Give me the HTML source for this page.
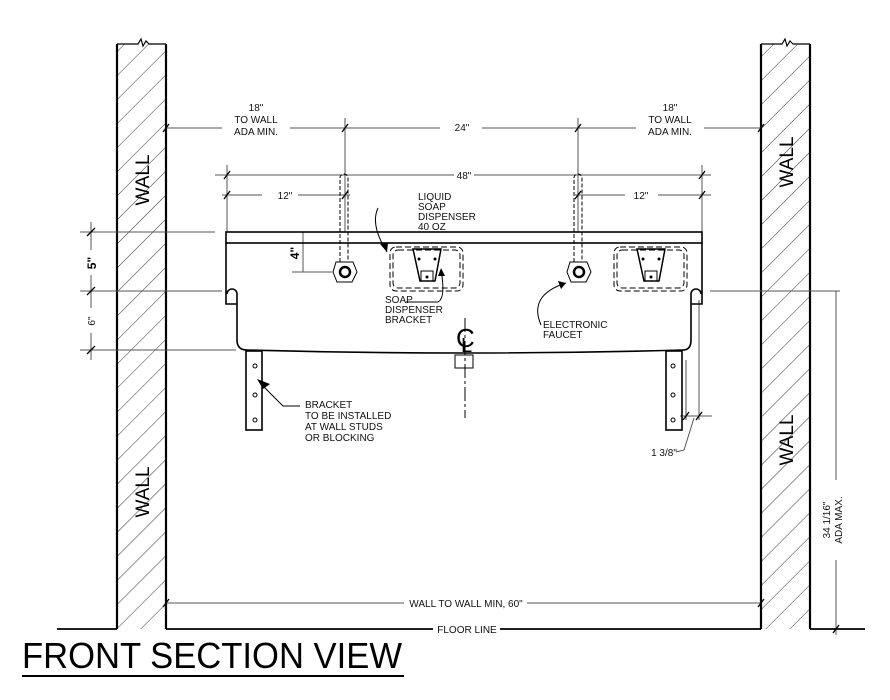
<!DOCTYPE html>
<html><head><style>
html,body{margin:0;padding:0;background:#fff;}
svg{display:block;font-family:"Liberation Sans",Arial,sans-serif;}
</style></head><body>
<svg width="890" height="700" viewBox="0 0 890 700" xmlns="http://www.w3.org/2000/svg">
<defs>
<pattern id="h" width="17" height="17" patternUnits="userSpaceOnUse" patternTransform="rotate(45)">
<line x1="0" y1="0" x2="0" y2="17" stroke="#333" stroke-width="1"/>
</pattern>
</defs>
<rect x="117" y="44" width="49" height="585" fill="url(#h)"/>
<rect x="761" y="44" width="49" height="585" fill="url(#h)"/>
<g stroke="#000" stroke-width="2.2" fill="none">
<line x1="117" y1="44" x2="117" y2="629"/><line x1="166" y1="44" x2="166" y2="629"/>
<line x1="761" y1="44" x2="761" y2="629"/><line x1="810" y1="44" x2="810" y2="629"/>
<polyline points="117,44 138,44 141,39 143,46 146,41 149,44 166,44" stroke-width="1.2"/>
<polyline points="761,44 782,44 785,39 787,46 790,41 793,44 810,44" stroke-width="1.2"/>
<line x1="57" y1="629" x2="117" y2="629" stroke-width="1.8"/>
<line x1="166" y1="629" x2="433" y2="629" stroke-width="1.8"/>
<line x1="500" y1="629" x2="761" y2="629" stroke-width="1.8"/>
<line x1="810" y1="629" x2="865" y2="629" stroke-width="1.8"/>
</g>
<g font-size="19" text-anchor="middle" fill="#000">
<text transform="translate(149,180) rotate(-90)">WALL</text>
<text transform="translate(149,492) rotate(-90)">WALL</text>
<text transform="translate(793,162) rotate(-90)">WALL</text>
<text transform="translate(793,440) rotate(-90)">WALL</text>
</g>
<g stroke="#555" stroke-width="1" fill="none">
<line x1="166" y1="128" x2="222" y2="128"/><line x1="290" y1="128" x2="440" y2="128"/><line x1="482" y1="128" x2="636" y2="128"/><line x1="704" y1="128" x2="761" y2="128"/>
<line x1="345" y1="118" x2="345" y2="232"/><line x1="578" y1="118" x2="578" y2="232"/>
<line x1="215" y1="175" x2="454" y2="175"/><line x1="474" y1="175" x2="711" y2="175"/>
<line x1="222" y1="195" x2="262" y2="195"/><line x1="298" y1="195" x2="350" y2="195"/><line x1="575" y1="195" x2="625" y2="195"/><line x1="658" y1="195" x2="711" y2="195"/>
<line x1="227" y1="165" x2="227" y2="232"/><line x1="702" y1="165" x2="702" y2="232"/>
<line x1="80" y1="232" x2="215" y2="232"/><line x1="80" y1="291" x2="222" y2="291"/><line x1="80" y1="350" x2="236" y2="350"/>
<line x1="91" y1="222" x2="91" y2="250"/><line x1="91" y1="275" x2="91" y2="308"/><line x1="91" y1="333" x2="91" y2="360"/>
<line x1="303" y1="232" x2="303" y2="272"/><line x1="292" y1="272" x2="332" y2="272"/>
<line x1="710" y1="291" x2="840" y2="291"/>
<line x1="836" y1="291" x2="836" y2="480"/><line x1="836" y1="560" x2="836" y2="635"/>
<line x1="686" y1="360" x2="686" y2="420"/><line x1="699" y1="300" x2="699" y2="420"/>
<line x1="680" y1="416" x2="712" y2="416"/>
<polyline points="694,418 684,450 676,452"/>
<line x1="166" y1="603" x2="404" y2="603"/><line x1="527" y1="603" x2="761" y2="603"/>
</g>
<g stroke="#000" stroke-width="1.3">
<line x1="163" y1="132" x2="169" y2="124"/><line x1="342" y1="132" x2="348" y2="124"/><line x1="575" y1="132" x2="581" y2="124"/><line x1="758" y1="132" x2="764" y2="124"/>
<line x1="224" y1="179" x2="230" y2="171"/><line x1="699" y1="179" x2="705" y2="171"/>
<line x1="224" y1="199" x2="230" y2="191"/><line x1="342" y1="199" x2="348" y2="191"/><line x1="575" y1="199" x2="581" y2="191"/><line x1="699" y1="199" x2="705" y2="191"/>
<line x1="87" y1="236" x2="95" y2="228"/><line x1="87" y1="295" x2="95" y2="287"/><line x1="87" y1="354" x2="95" y2="346"/>
<line x1="683" y1="420" x2="689" y2="412"/><line x1="696" y1="420" x2="702" y2="412"/>
<line x1="163" y1="607" x2="169" y2="599"/><line x1="758" y1="607" x2="764" y2="599"/>
<line x1="833" y1="633" x2="839" y2="625"/>
</g>
<g font-size="10" text-anchor="middle" fill="#111">
<text x="256" y="111">18"</text><text x="256" y="123">TO WALL</text><text x="256" y="135">ADA MIN.</text>
<text x="670" y="111">18"</text><text x="670" y="123">TO WALL</text><text x="670" y="135">ADA MIN.</text>
<text x="462" y="131">24"</text>
<text x="464" y="179">48"</text>
<text x="285" y="199">12"</text><text x="641" y="199">12"</text>
<text x="467" y="633">FLOOR LINE</text>
<text x="466" y="607">WALL TO WALL MIN, 60"</text>
<text x="664" y="456">1 3/8"</text>
</g>
<g font-size="10" fill="#111">
<text x="418" y="200">LIQUID</text><text x="418" y="210">SOAP</text><text x="418" y="220">DISPENSER</text><text x="418" y="230">40 OZ</text>
<text x="385" y="303">SOAP</text><text x="385" y="313">DISPENSER</text><text x="385" y="323">BRACKET</text>
<text x="543" y="328">ELECTRONIC</text><text x="543" y="338">FAUCET</text>
<text x="305" y="408">BRACKET</text><text x="305" y="419">TO BE INSTALLED</text><text x="305" y="430">AT WALL STUDS</text><text x="305" y="441">OR BLOCKING</text>
</g>
<g font-size="12" font-weight="bold" text-anchor="middle" fill="#000">
<text transform="translate(96,263) rotate(-90)">5"</text>
<text transform="translate(299,253) rotate(-90)">4"</text>
</g>
<g font-size="10" text-anchor="middle" fill="#111">
<text transform="translate(95,321) rotate(-90)">6"</text>
<text transform="translate(830,520) rotate(-90)">34 1/16"</text>
<text transform="translate(842,520) rotate(-90)">ADA MAX.</text>
</g>
<g stroke="#000" stroke-width="1.6" fill="none">
<rect x="226" y="232" width="476" height="11"/>
<path d="M226,243 V304 H237 V294 A5,5 0 0 0 227,294 M237,304 V340 Q237,350 247,350 Q465,356 683,350 Q691,350 691,340 V304 H702 V243 M691,304 V294 A5,5 0 0 1 701,294"/>
<rect x="246" y="351" width="16" height="79"/>
<rect x="666" y="351" width="16" height="79"/>
<rect x="455" y="355" width="18" height="13" stroke-width="1"/>
</g>
<g stroke="#000" stroke-width="1" fill="none">
<circle cx="255" cy="366" r="2"/><circle cx="255" cy="395" r="2"/><circle cx="255" cy="420" r="2"/>
<circle cx="673" cy="366" r="2"/><circle cx="673" cy="395" r="2"/><circle cx="673" cy="420" r="2"/>
<path d="M340,262 V178 A4,4 0 0 1 348,178 V262" stroke-dasharray="4,2"/>
<path d="M574,262 V178 A4,4 0 0 1 582,178 V262" stroke-dasharray="4,2"/>
<path d="M336,262 L353,262 L357,272 L352,282 L337,282 L333,272 Z"/>
<path d="M570,262 L587,262 L591,272 L586,282 L571,282 L567,272 Z"/>
<circle cx="345" cy="272" r="5" stroke-width="2.5"/><circle cx="579" cy="272" r="5" stroke-width="2.5"/>
<rect x="390" y="247" width="73" height="44" rx="6" stroke-dasharray="6,3"/>
<rect x="393" y="250" width="67" height="38" rx="5" stroke-dasharray="6,3"/>
<rect x="614" y="247" width="73" height="44" rx="6" stroke-dasharray="6,3"/>
<rect x="617" y="250" width="67" height="38" rx="5" stroke-dasharray="6,3"/>
<path d="M413,249 H441 L435,281 H420 Z" stroke-width="1.5"/>
<path d="M637,249 H665 L659,281 H644 Z" stroke-width="1.5"/>
<rect x="421" y="271" width="12" height="10"/><rect x="645" y="271" width="12" height="10"/>
<path d="M378,208 Q370,225 387,252"/>
<path d="M406,302 H438 Q446,298 441,270"/>
<path d="M541,325 Q528,295 566,283"/>
<path d="M300,406 H283 L262,385"/>
<line x1="465" y1="318" x2="465" y2="418" stroke-dasharray="14,3,3,3" stroke="#000"/>
</g>
<polygon points="387,252 380,244 388,243" fill="#000"/>
<polygon points="566,283 558,281 561,289" fill="#000"/>
<polygon points="257,379 270,384 263,389" fill="#000"/>
<polygon points="441,268 438,276 445,276" fill="#000"/>
<g fill="#000"><circle cx="419" cy="259" r="1.5"/><circle cx="435" cy="259" r="1.5"/><circle cx="427" cy="277" r="1.5"/>
<circle cx="643" cy="259" r="1.5"/><circle cx="659" cy="259" r="1.5"/><circle cx="651" cy="277" r="1.5"/></g>
<text x="456" y="347" font-size="26" fill="#000">C</text>
<text x="461" y="352" font-size="20" fill="#000">L</text>
<text x="22" y="668" font-size="36" fill="#000" textLength="380" lengthAdjust="spacingAndGlyphs">FRONT SECTION VIEW</text>
<line x1="22" y1="676" x2="404" y2="676" stroke="#000" stroke-width="2"/>
</svg>
</body></html>
